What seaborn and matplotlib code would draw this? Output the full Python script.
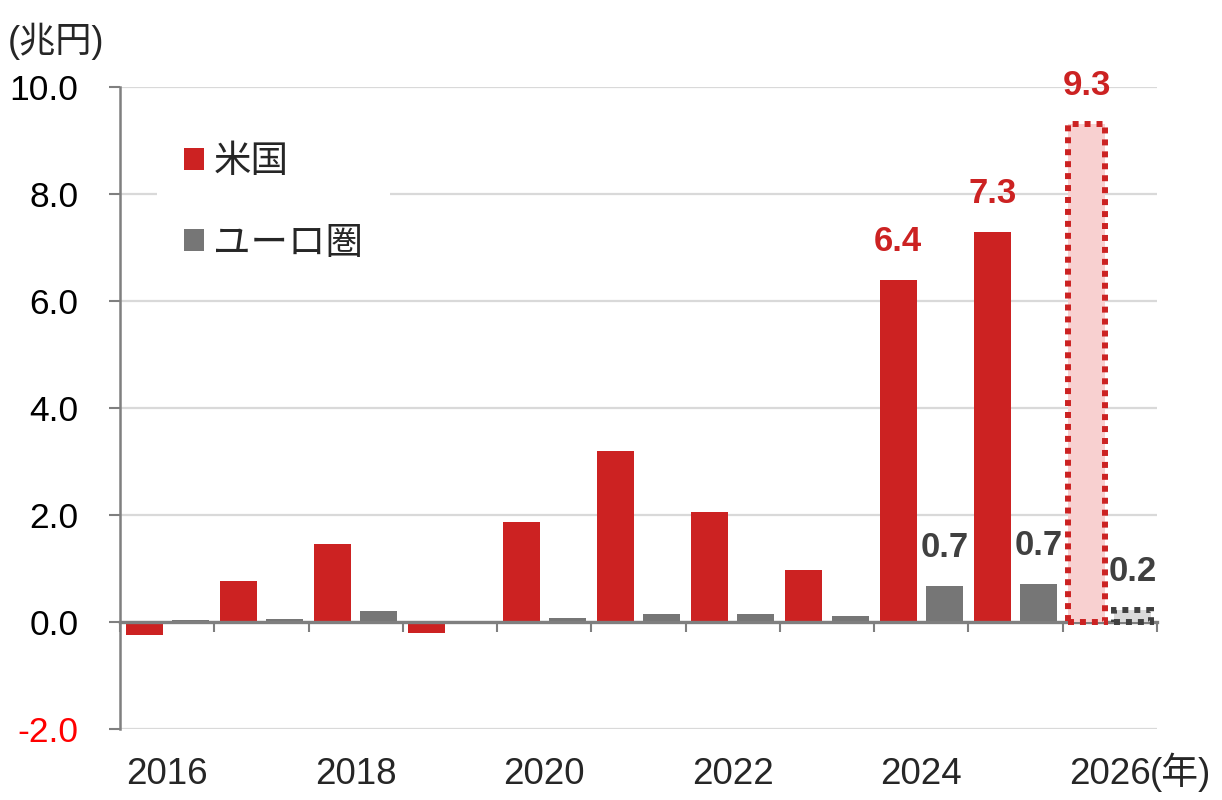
import numpy as np
import pandas as pd
import matplotlib
matplotlib.use("Agg")
import matplotlib.pyplot as plt
import seaborn as sns

# ---- data ----
years = ["2016", "2017", "2018", "2019", "2020", "2021", "2022", "2023", "2024", "2025", "2026"]
us_values = [-0.25, 0.77, 1.46, -0.20, 1.87, 3.20, 2.05, 0.97, 6.39, 7.29, 9.31]
euro_values = [0.03, 0.05, 0.20, 0.00, 0.08, 0.15, 0.15, 0.11, 0.67, 0.71, 0.22]
series_names = ["米国", "ユーロ圏"]
labelled_years = ["2024", "2025", "2026"]
forecast_years = ["2026"]
shown_year_labels = ["2016", "2018", "2020", "2022", "2024", "2026"]
y_ticks = [-2.0, 0.0, 2.0, 4.0, 6.0, 8.0, 10.0]
unit_label = "(兆円)"
year_unit = "(年)"

# ---- style ----
RED = "#cc2222"
GRAY = "#767676"
AXIS = "#7f7f7f"
GRID = "#d9d9d9"
DARK = "#404040"
FORECAST_RED_FILL = "#f8d0d0"
FORECAST_GRAY_FILL = "#d9d9d9"

sns.set_style("white")
plt.rcParams["font.family"] = ["Liberation Sans", "Noto Sans CJK JP"]

df = pd.DataFrame({
    "year": years * 2,
    "value": us_values + euro_values,
    "series": [series_names[0]] * len(years) + [series_names[1]] * len(years),
})

fig = plt.figure(figsize=(12.22, 8.0), dpi=100)
ax = fig.add_axes([120 / 1222, 1 - 729 / 800, (1157 - 120) / 1222, (729 - 87) / 800])

sns.barplot(data=df, x="year", y="value", hue="series", order=years,
            hue_order=series_names, palette=[RED, GRAY], width=0.98, gap=0.2,
            saturation=1, errorbar=None, ax=ax, zorder=2)

# forecast styling
fc_fill = [FORECAST_RED_FILL, FORECAST_GRAY_FILL]
fc_edge = [RED, DARK]
for ci, cont in enumerate(ax.containers):
    for yi, bar in enumerate(cont.patches):
        bar.set_edgecolor("none")
        if years[yi] in forecast_years:
            bar.set_facecolor(fc_fill[ci])
            bar.set_edgecolor(fc_edge[ci])
            bar.set_linewidth(4.3)
            bar.set_linestyle((0, (1, 1)))
            bar.set_zorder(4)

# value labels
label_colors = [RED, DARK]
for ci, (cont, vals) in enumerate(zip(ax.containers, [us_values, euro_values])):
    labs = [f"{v:.1f}" if y in labelled_years else "" for y, v in zip(years, vals)]
    ax.bar_label(cont, labels=labs, padding=16, fontsize=25, fontweight="bold",
                 color=label_colors[ci], family=["Liberation Sans"])

# axes
ax.set_ylim(min(y_ticks), max(y_ticks))
ax.set_xlim(-0.5, len(years) - 0.5)
ax.set_yticks(y_ticks)
ax.set_yticklabels([f"{v:.1f}" for v in y_ticks])
for t, v in zip(ax.get_yticklabels(), y_ticks):
    t.set_color("#ff0000" if v < 0 else "black")
ax.tick_params(axis="y", which="major", length=8, width=1.5, color=AXIS,
               direction="out", pad=22, labelsize=25.5, left=True)
ax.grid(axis="y", color=GRID, linewidth=1.6, zorder=0)
ax.set_axisbelow(True)

for s in ["top", "right"]:
    ax.spines[s].set_visible(False)
ax.spines["left"].set_color(AXIS)
ax.spines["left"].set_linewidth(1.8)
ax.spines["bottom"].set_position(("data", 0))
ax.spines["bottom"].set_color(AXIS)
ax.spines["bottom"].set_linewidth(2.4)
ax.spines["bottom"].set_zorder(3)

ax.set_xticks(np.arange(len(years)))
ax.set_xticklabels([y if y in shown_year_labels else "" for y in years])
ax.set_xticks(np.arange(len(years) + 1) - 0.5, minor=True)
ax.tick_params(axis="x", which="major", length=0, pad=97, labelsize=26.5, bottom=True)
ax.tick_params(axis="x", which="minor", length=7, width=1.5, color=AXIS,
               direction="out", bottom=True)
ax.set_xlabel("")
ax.set_ylabel("")

# legend
leg = ax.legend(loc="upper left", bbox_to_anchor=(0.0357, 0.953), frameon=True,
                fontsize=27, handlelength=0.53, handleheight=0.53,
                handletextpad=0.25, labelspacing=1.21, borderpad=0.72,
                borderaxespad=0, fancybox=False)
leg.get_frame().set_facecolor("white")
leg.get_frame().set_edgecolor("none")
leg.get_frame().set_alpha(1)
for h in leg.legend_handles:
    h.set_edgecolor("none")

fig.text(8 / 1222, 1 - 41 / 800, unit_label, fontsize=26, ha="left", va="center")
fig.text(1150 / 1222, 1 - 772 / 800, year_unit, fontsize=26.5, ha="left", va="center")

fig.savefig("out.png", dpi=100)
